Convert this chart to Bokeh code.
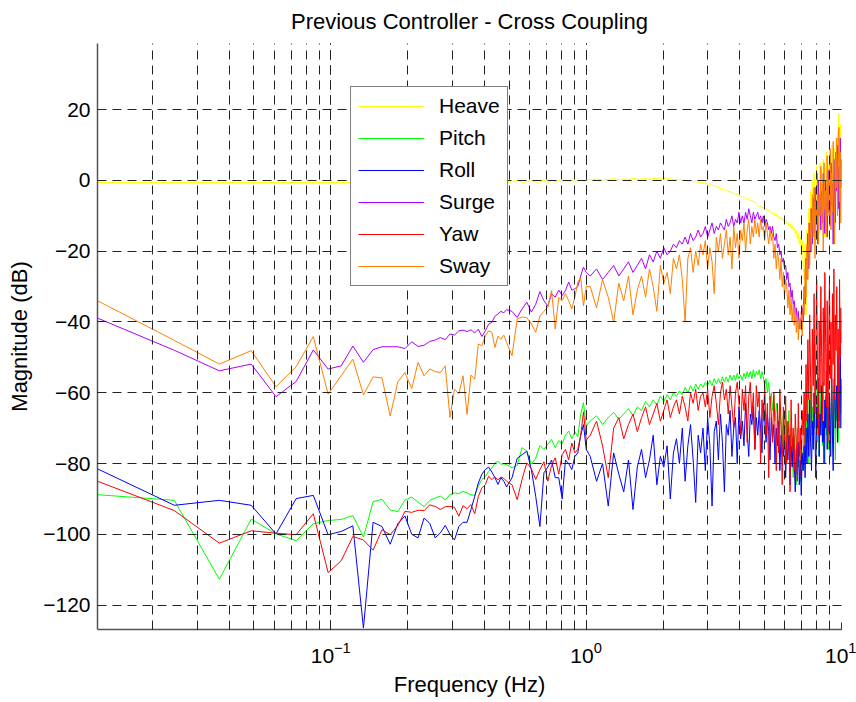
from bokeh.plotting import figure
from bokeh.models import FixedTicker, Legend
from bokeh.embed import file_html
from bokeh.resources import INLINE

# ---------------- data ----------------
DF = 0.012207  # frequency resolution (Hz)
bins_lo = list(range(1, 41))
bins_mid = list(range(42, 83, 2))
bins_hi = list(range(85, 821, 5))
bins = bins_lo + bins_mid + bins_hi
freq = [b * DF for b in bins]

heave_lo = [-0.6, -0.6, -0.6, -0.6, -0.6, -0.6, -0.6, -0.6, -0.6, -0.6,
            -0.6, -0.6, -0.6, -0.6, -0.6, -0.6, -0.6, -0.6, -0.6, -0.6,
            -0.6, -0.5, -0.6, -0.6, -0.5, -0.6, -0.6, -0.5, -0.6, -0.6,
            -0.5, -0.6, -0.5, -0.6, -0.5, -0.6, -0.3, -0.6, -0.5, -0.6]
heave_mid = [-0.4, 0.1, -0.5, -0.4, 0.0, -0.4, -0.5, 0.2, -0.7, 0.1, -0.4,
             0.0, -0.4, 0.3, -0.3, 0.1, -0.4, 0.0, 0.2, -0.3, 0.1]
heave_hi = [0.2, 0.4, 0.1, 0.3, 0.5, 0.2, 0.4, 0.3, 0.6, 0.3,
            0.4, 0.5, 0.3, 0.6, 0.4, 0.5, 0.7, 0.4, 0.5, 0.3,
            0.2, 0.4, 0.0, 0.1, -0.3, 0.0, -0.4, -0.2, -0.6, -0.5,
            -0.8, -0.6, -1.1, -0.9, -1.5, -1.3, -1.9, -1.7, -2.4, -2.2,
            -2.8, -2.6, -3.2, -3.0, -3.6, -3.4, -4.0, -3.8, -4.5, -4.3,
            -4.7, -5.0, -4.9, -5.4, -5.2, -5.8, -5.6, -6.2, -6.0, -6.6,
            -7.0, -7.4, -7.2, -7.8, -7.5, -8.2, -7.9, -8.6, -8.3, -9.0,
            -8.8, -9.4, -9.0, -10.0, -9.6, -10.4, -10.0, -10.9, -10.5, -11.2,
            -10.8, -11.8, -11.3, -12.3, -11.8, -12.9, -12.3, -13.5, -12.8, -14.0,
            -13.5, -15.0, -14.2, -16.5, -15.0, -18.0, -16.0, -20.0, -17.0, -23.0,
            -28, -18, -38, -14, -25, -8, -20, -3, -15, 0,
            -12, 2, -18, -5, 4, -10, 0, -15, 5, -6,
            3, -12, 6, -4, -16, 1, 8, -8, 4, -2,
            7, -10, 2, 10, -5, 4, -14, 9, 0, 12,
            -3, 14, 5, 19, -6, 16, 2, 8]

pitch_lo = [-88.8, -90.4, -112.7, -95.7, -99.9, -101.8, -97.0, -96.1, -95.8, -94.7,
            -100.8, -90.8, -90.1, -93.1, -93.6, -90.3, -89.5, -90.9, -92.2, -90.4,
            -89.7, -89.2, -90.3, -88.8, -88.3, -88.5, -87.9, -88.3, -88.8, -89.0,
            -86.4, -84.5, -83.8, -82.2, -81.3, -79.8, -79.4, -80.2, -80.1, -80.3]
pitch_mid = [-81.2, -80.5, -75.5, -76.5, -80.2, -78.5, -74.9, -76.0, -74.5, -73.2,
             -75.5, -73.5, -74.5, -72.0, -70.8, -73.0, -71.0, -72.5, -66.0, -62.8, -69.4]
pitch_hi = [-68, -66.5, -69, -67, -65.5, -67.5, -66, -64.5, -66.5, -64,
            -65, -62.5, -64, -62, -63.5, -61, -62.5, -60.5, -62, -60,
            -61, -59.5, -60.5, -58.5, -60, -58, -59.5, -57.5, -59, -57.5,
            -58.5, -57, -58, -56.5, -58, -56, -57.5, -56, -57.5, -55.5,
            -57, -55.5, -57, -55, -56.5, -55, -56.5, -54.5, -56, -55,
            -56.5, -54.5, -56, -54, -55.5, -54, -56, -53.5, -55.5, -54,
            -55, -53.5, -56, -54, -55.5, -58, -56, -60, -57, -62,
            -60, -65, -61, -68, -63, -66, -72, -64, -69, -75,
            -66, -71, -78, -68, -74, -65, -80, -70, -76, -84,
            -72, -78, -86, -70, -81, -75, -85, -73, -82, -77,
            -70, -78, -66, -74, -62, -80, -68, -58, -72, -64,
            -76, -60, -70, -56, -68, -74, -62, -78, -58, -70,
            -64, -75, -57, -69, -80, -61, -72, -55, -67, -76,
            -60, -70, -78, -58, -66, -73, -56, -64, -79, -62,
            -68, -55, -74, -60, -70, -52, -66, -58]

roll_lo = [-81.5, -91.8, -90.4, -91.8, -99.9, -89.9, -89.0, -100.1, -99.2, -97.6,
           -126.5, -96.6, -97.8, -102.8, -97.0, -94.8, -100.0, -101.0, -95.4, -96.9,
           -101.0, -99.6, -97.5, -100.0, -101.6, -97.8, -96.6, -96.6, -93.0, -89.3,
           -85.5, -83.0, -81.7, -81.0, -82.4, -84.0, -85.9, -84.0, -85.0, -86.6]
roll_mid = [-84.0, -78.5, -77.5, -76.5, -81.7, -89.3, -97.8, -82.6, -81.0, -79.0,
            -84.0, -84.0, -90.0, -79.0, -80.0, -81.7, -78.0, -77.0, -72.0, -69.0, -76.0]
roll_hi = [-78, -85, -80, -92, -77, -83, -88, -79, -93, -81,
           -76, -84, -79, -72, -86, -78, -81, -75, -90, -77,
           -73, -80, -70, -85, -75, -69, -79, -91, -72, -77,
           -70, -82, -67, -75, -92, -71, -68, -79, -66, -74,
           -88, -69, -72, -65, -78, -70, -67, -80, -64, -73,
           -68, -75, -63, -71, -78, -66, -69, -64, -76, -67,
           -72, -65, -70, -77, -63, -68, -74, -66, -71, -79,
           -67, -73, -69, -80, -70, -75, -68, -82, -72, -76,
           -78, -70, -84, -74, -79, -72, -86, -75, -81, -73,
           -80, -88, -76, -83, -74, -86, -79, -89, -77, -82,
           -75, -84, -70, -80, -66, -78, -62, -74, -82, -68,
           -76, -60, -72, -84, -64, -70, -56, -78, -66, -72,
           -58, -74, -68, -80, -62, -70, -54, -76, -64, -71,
           -60, -78, -66, -56, -72, -82, -62, -52, -70, -64,
           -58, -74, -50, -68, -62, -47, -70, -56]

surge_lo = [-38.9, -48.0, -53.8, -51.9, -61.1, -56.8, -47.9, -53.3, -52.4, -46.8,
            -51.4, -47.8, -47.0, -47.0, -47.0, -47.5, -45.6, -46.9, -46.6, -45.5,
            -45.1, -44.4, -45.0, -43.4, -43.7, -42.5, -42.3, -42.7, -42.2, -43.1,
            -42.0, -44.1, -42.5, -40.6, -40.1, -38.4, -37.7, -37.0, -37.4, -36.5]
surge_mid = [-37.0, -38.7, -36.3, -34.4, -37.2, -35.0, -31.4, -34.0, -35.5, -32.0,
             -33.0, -31.0, -32.5, -31.1, -28.7, -31.0, -30.6, -30.0, -27.0, -24.5, -26.0]
surge_hi = [-27, -25, -28, -26, -24, -27, -25, -23, -26, -24,
            -22, -25, -21, -23, -20, -22, -19, -21, -20, -18,
            -19, -17, -18, -16, -18, -15, -17, -16, -14, -16,
            -15, -13, -16, -14, -12, -15, -13, -14, -12, -13,
            -14, -11, -13, -12, -10, -13, -11, -12, -9, -12,
            -10, -12, -9, -11, -8, -10, -12, -9, -11, -10,
            -9, -11, -10, -12, -10, -13, -11, -12, -14, -13,
            -15, -13, -16, -17, -15, -19, -18, -21, -20, -23,
            -22, -25, -24, -28, -26, -30, -29, -33, -31, -35,
            -34, -38, -36, -40, -37, -42, -39, -41, -36, -40,
            -30, -35, -22, -28, -15, -25, -12, -20, -8, -18,
            -5, -15, -2, -12, -6, -18, 0, -10, -4, -14,
            -3, -12, 2, -8, -15, 0, -6, -16, 3, -9,
            -2, -13, 5, -7, -1, -18, 6, -5, -12, 8,
            -3, 10, -8, 4, -14, 12, -2, 6]

yaw_lo = [-85.0, -93.3, -102.5, -99.0, -99.7, -100.1, -94.2, -110.8, -107.5, -100.6,
          -101.6, -104.5, -98.7, -100.1, -97.5, -93.5, -93.8, -93.2, -93.3, -91.7,
          -92.1, -93.0, -92.2, -92.1, -92.4, -94.9, -91.9, -92.8, -91.6, -94.2,
          -89.3, -86.9, -86.0, -83.6, -84.5, -83.8, -84.6, -83.8, -84.2, -85.0]
yaw_mid = [-86.0, -90.2, -84.4, -79.8, -81.5, -84.5, -81.7, -79.5, -85.0, -80.5,
           -78.4, -83.0, -77.5, -76.0, -79.0, -74.2, -77.0, -76.0, -72.0, -65.4, -73.4]
yaw_hi = [-72, -68, -75, -84, -70, -67, -73, -69, -66, -71,
          -67, -64, -69, -66, -63, -68, -65, -62, -67, -64,
          -62, -66, -61, -64, -68, -60, -63, -59, -65, -61,
          -60, -64, -59, -67, -61, -58, -63, -69, -60, -57,
          -62, -59, -66, -58, -64, -70, -60, -57, -63, -72,
          -59, -65, -58, -74, -61, -57, -67, -60, -76, -58,
          -64, -60, -80, -62, -68, -58, -72, -63, -84, -61,
          -66, -74, -60, -70, -82, -63, -77, -59, -69, -86,
          -64, -75, -61, -80, -68, -72, -88, -62, -76, -70,
          -82, -66, -74, -85, -63, -78, -70, -84, -65, -72,
          -60, -75, -52, -68, -45, -62, -38, -56, -70, -42,
          -58, -32, -66, -48, -28, -54, -72, -40, -60, -30,
          -50, -68, -36, -58, -26, -46, -64, -34, -74, -44,
          -28, -56, -40, -66, -32, -52, -25, -62, -38, -48,
          -30, -58, -42, -70, -28, -50, -36, -46]

sway_lo = [-34.0, -45.2, -51.9, -48.1, -58.3, -52.6, -44.1, -60.4, -55.2, -50.5,
           -60.6, -55.5, -55.8, -66.6, -56.9, -54.3, -58.8, -51.4, -55.2, -53.3,
           -54.0, -54.3, -52.4, -67.0, -59.0, -60.3, -55.2, -66.1, -55.0, -56.2,
           -46.2, -46.7, -43.9, -42.5, -42.9, -47.2, -44.0, -44.9, -43.7, -45.8]
sway_mid = [-49.5, -39.1, -38.6, -38.8, -40.5, -42.9, -38.3, -37.0, -35.8, -31.1,
            -42.0, -33.1, -34.0, -32.0, -34.0, -36.3, -33.0, -28.7, -27.5, -35.4, -30.0]
sway_hi = [-30, -36, -28, -33, -40, -29, -34, -27, -38, -31,
           -27, -33, -25, -30, -37, -24, -29, -26, -32, -22,
           -25, -21, -28, -40, -22, -19, -26, -20, -24, -18,
           -21, -17, -25, -19, -23, -32, -16, -20, -15, -22,
           -18, -14, -21, -16, -25, -13, -19, -15, -22, -14,
           -17, -12, -20, -14, -11, -18, -13, -16, -11, -15,
           -12, -16, -11, -14, -13, -17, -12, -15, -18, -14,
           -17, -15, -22, -18, -25, -20, -23, -28, -22, -30,
           -26, -33, -28, -30, -36, -31, -38, -33, -40, -35,
           -41, -36, -43, -38, -45, -39, -42, -37, -44, -35,
           -38, -25, -33, -18, -28, -12, -24, -8, -20, -4,
           -16, -2, -22, -6, -12, 2, -18, -4, -10, 4,
           -14, -1, -20, 5, -8, -3, -16, 7, -10, 0,
           -6, 9, -14, 2, -9, 11, -4, -18, 6, -2,
           12, -10, 3, 15, -6, 8, -12, 2]

series_names = ["Heave", "Pitch", "Roll", "Surge", "Yaw", "Sway"]
series_colors = ["#ffff00", "#00ff00", "#0000ff", "#aa00ff", "#ff0000", "#ff8000"]
series_values = [heave_lo + heave_mid + heave_hi,
                 pitch_lo + pitch_mid + pitch_hi,
                 roll_lo + roll_mid + roll_hi,
                 surge_lo + surge_mid + surge_hi,
                 yaw_lo + yaw_mid + yaw_hi,
                 sway_lo + sway_mid + sway_hi]
y_ticks = [-120, -100, -80, -60, -40, -20, 0, 20]

for v in series_values:
    assert len(v) == len(freq), (len(v), len(freq))

FONT = "Liberation Sans"

p = figure(frame_width=744, frame_height=586, x_axis_type="log",
           x_range=(0.012207, 10.0), y_range=(-126.9, 38.7),
           output_backend="svg", toolbar_location=None,
           min_border_left=97, min_border_right=15,
           min_border_top=43, min_border_bottom=60,
           title="Previous Controller - Cross Coupling")
p.outline_line_color = None
p.background_fill_color = "white"
p.border_fill_color = "white"

p.title.align = "center"
p.title.vertical_align = "top"
p.title.text_font = FONT
p.title.text_font_size = "22px"
p.title.text_font_style = "normal"
p.title.text_color = "black"
p.title.standoff = 16

items = []
for name, col, vals in zip(series_names, series_colors, series_values):
    r = p.line(freq, vals, line_color=col, line_width=1)
    items.append((name, [r]))

legend = Legend(items=items, location=(253, 343))
legend.label_text_font = FONT
legend.label_text_font_size = "21px"
legend.label_text_color = "black"
legend.glyph_width = 66
legend.glyph_height = 24
legend.label_height = 24
legend.label_standoff = 15
legend.spacing = 8
legend.padding = 7
legend.margin = 0
legend.border_line_color = "black"
legend.border_line_width = 1
legend.background_fill_color = "white"
legend.background_fill_alpha = 1.0
p.add_layout(legend)

# axes
p.yaxis.ticker = FixedTicker(ticks=y_ticks)
for ax in (p.xaxis[0], p.yaxis[0]):
    ax.axis_line_color = "#555555"
    ax.axis_line_width = 1.5
    ax.major_tick_line_color = "#333333"
    ax.minor_tick_line_color = "#333333"
    ax.major_tick_in = 7
    ax.major_tick_out = 0
    ax.minor_tick_in = 5
    ax.minor_tick_out = 0
    ax.major_label_text_font = FONT
    ax.major_label_text_font_size = "21px"
    ax.major_label_text_color = "black"
    ax.axis_label_text_font = FONT
    ax.axis_label_text_font_size = "22px"
    ax.axis_label_text_font_style = "normal"
    ax.axis_label_text_color = "black"
p.yaxis.minor_tick_line_color = None
p.yaxis.major_label_standoff = 7
p.yaxis.axis_label_standoff = 8
p.xaxis.major_label_standoff = 12
p.xaxis.axis_label_standoff = 6
p.xaxis.axis_label = "Frequency (Hz)"
p.yaxis.axis_label = "Magnitude (dB)"

# grids (drawn on top like the reference)
for g in (p.xgrid[0], p.ygrid[0]):
    g.grid_line_color = "#222222"
    g.grid_line_dash = "9 6"
    g.grid_line_width = 1
    g.level = "overlay"
p.xgrid.minor_grid_line_color = "#222222"
p.xgrid.minor_grid_line_dash = "9 6"
p.xgrid.minor_grid_line_width = 1

open("out.html", "w").write(file_html(p, INLINE))
